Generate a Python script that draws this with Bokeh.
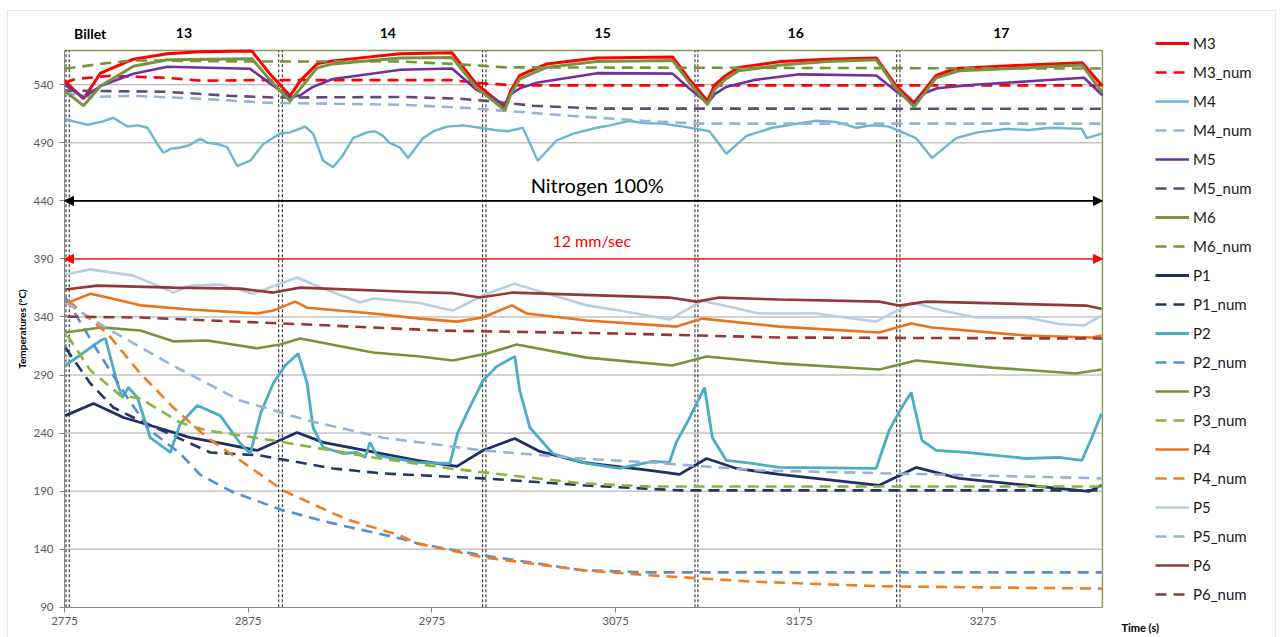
from bokeh.plotting import figure
from bokeh.models import (Range1d, FixedTicker, Legend, LegendItem, Label, Arrow,
                          NormalHead, BoxAnnotation)
from bokeh.embed import file_html
from bokeh.resources import INLINE

# ---------------- data ----------------
x_ticks = [2775, 2875, 2975, 3075, 3175, 3275]
y_ticks = [90, 140, 190, 240, 290, 340, 390, 440, 490, 540]

billet_names = ["Billet", "13", "14", "15", "16", "17"]
billet_x = [2789, 2840, 2951, 3068, 3173, 3285]
billet_lines = [2775.8, 2777.6, 2891.6, 2893.6, 3002.6, 3004.4, 3118.2, 3119.8, 3228.0, 3229.8]

m3_t = [2775, 2785.3, 2794.6, 2812.5, 2831, 2849, 2877, 2887, 2897.8, 2903.3, 2912.5, 2921, 2957.6, 2986,
        2999, 3014.7, 3018, 3022.8, 3037.5, 3064.7, 3106, 3115, 3125, 3129, 3135, 3142, 3165, 3190, 3217,
        3227.7, 3237.5, 3249.5, 3260, 3290, 3329, 3340]
m3_v = [543.4, 528, 550, 562, 566.7, 568.4, 569, 549, 530.5, 543.4, 558, 560.6, 566.7, 567.5,
        541, 521, 535, 548, 558, 563, 564, 545, 526, 540, 548, 555, 560, 562, 563,
        539, 524.5, 548, 554, 556.5, 559, 539]

m3n_t = [2775, 2781, 2800, 2830, 2850, 2880, 2985, 3005, 3020, 3340]
m3n_v = [541.7, 545, 547.7, 546, 543.5, 544, 544, 541, 539.5, 539.5]

m4_t = [2775, 2781, 2787.5, 2795, 2801.6, 2809.2, 2815, 2820.1, 2825.5, 2828.8, 2833, 2838, 2843, 2848.9,
        2853, 2858.2, 2863.6, 2869, 2876.1, 2883.2, 2892.4, 2897.8, 2906, 2910.3, 2915.8, 2921.2, 2926,
        2932.1, 2939.7, 2944, 2948.4, 2952, 2957.6, 2962, 2970.1, 2976, 2983.2, 2992, 3001.1, 3009, 3016.3,
        3024.5, 3032.6, 3042.9, 3052, 3064.7, 3072, 3082.6, 3090, 3100.5, 3112, 3126.1, 3135.3, 3146.2,
        3160.3, 3172, 3184.2, 3195, 3206, 3214, 3223.9, 3238.6, 3247.3, 3260.3, 3272, 3287.5, 3300, 3312,
        3328.8, 3331.5, 3339.7]
m4_v = [510.7, 508, 505.6, 508, 511.6, 504, 505, 503, 489, 481.5, 485, 486, 488, 493.5,
        490, 489, 486, 470, 474.6, 489, 498, 499, 504, 498, 474.6, 469, 478,
        494, 499, 500, 496, 490, 486, 477, 494, 500, 504, 505, 503, 501, 500,
        503, 474.6, 492, 498, 503, 505, 509, 507, 506.5, 504, 500, 480.6, 496,
        503, 506, 509, 508, 503, 505, 504, 494, 477, 494, 499, 502, 501, 503,
        502, 494, 498]

m4n_t = [2775, 2790, 2812, 2849, 2885, 2958, 2995, 3050, 3090, 3120, 3340]
m4n_v = [533, 529.5, 530.5, 528, 524.5, 522.8, 520, 513.3, 509, 506.5, 506.5]

m5_t = [2775, 2785.5, 2794.6, 2812.5, 2831, 2876, 2887, 2898, 2903.3, 2910, 2921, 2958, 2986, 2999, 3014.5,
        3018, 3023, 3032, 3065, 3106, 3115, 3125, 3129, 3135, 3150, 3175, 3217, 3228, 3238, 3242, 3250,
        3270, 3300, 3330, 3340]
m5_v = [540, 529, 539, 549.5, 555.5, 553.8, 541, 529, 531, 538, 545, 553, 554, 536, 523,
        532, 537, 541.7, 550, 549.6, 537, 524, 532, 538, 544, 549, 548, 534, 523, 532, 537,
        540, 543, 546, 531]

m5n_t = [2775, 2830, 2865, 2890, 2960, 2990, 3005, 3030, 3065, 3340]
m5n_v = [535, 534, 530.5, 529, 529.5, 528, 526, 522, 519.5, 519.3]

m6_t = [2775, 2785.3, 2794.6, 2812.5, 2831, 2877, 2887, 2897.8, 2903, 2912.5, 2921, 2957.6, 2986, 2999,
        3014.7, 3018, 3022.8, 3037.5, 3064.7, 3106, 3115, 3125, 3129, 3135, 3142, 3165, 3190, 3217,
        3227.7, 3237.5, 3249.5, 3262, 3290, 3329, 3340]
m6_v = [535, 522, 539, 556, 561.5, 562.4, 544, 526, 536, 554.6, 558, 563, 563.5, 538,
        518, 532, 545, 555, 560, 561, 542, 523, 536, 545, 552, 557, 560, 561.5,
        537, 521, 546, 552, 554, 557, 533]

m6n_t = [2775, 2794.6, 2812.5, 2877, 2958, 2986, 3015, 3340]
m6n_v = [553.8, 558, 561, 560, 560, 558, 555, 554]

p1_t = [2775.5, 2790.8, 2807.1, 2825.5, 2843.5, 2861.4, 2879.9, 2901.6, 2915.8, 2966.8, 2988.6, 3002.7,
        3020.1, 3033.7, 3057.1, 3093.5, 3109.8, 3124.5, 3140.8, 3164.1, 3218.5, 3238.6, 3262, 3316.3,
        3332.6, 3339.5]
p1_v = [255, 265.5, 253.4, 244.8, 236, 231, 225, 240.5, 232, 216.4, 211.3, 225,
        235.3, 224.2, 214.7, 207.8, 204.4, 218.1, 209.5, 204.4, 195, 210.4, 201, 192.3,
        189.7, 195]

p1n_t = [2775.5, 2789.1, 2801.6, 2812.5, 2854.3, 2881.5, 2921.2, 2948.4, 3002.7, 3057.1, 3110, 3339.7]
p1n_v = [313.6, 282.7, 262, 253.4, 223.3, 220.7, 209.5, 205.2, 201, 195, 190.6, 190.6]

p2_t = [2775.5, 2794.6, 2797.3, 2803.8, 2806.5, 2809.8, 2814.7, 2821.7, 2832.6, 2838, 2847.3, 2859.8,
        2870.7, 2876.1, 2882, 2888.6, 2895, 2902.2, 2907.1, 2910.3, 2915.8, 2926.6, 2934.2, 2938.6,
        2941.3, 2945.1, 2966.8, 2984.8, 2989, 2994, 3002.7, 3010, 3020.1, 3022.8, 3028.3, 3040.8,
        3059.2, 3077.2, 3095.1, 3104.3, 3108, 3113.6, 3123.4, 3127.7, 3135.3, 3149.5, 3164.1, 3216.8,
        3223.9, 3230, 3235.9, 3241.8, 3249.5, 3265.8, 3298.4, 3316.3, 3328.8, 3334.2, 3339.5]
p2_v = [298.2, 319.7, 321.4, 282.7, 270.6, 279.2, 270.6, 236, 223.3, 248, 263.7, 255,
        231, 222.4, 258, 282.7, 298, 308.5, 282.7, 244.8, 227.6, 222.4, 223.3, 219,
        232, 220.7, 214.7, 213.8, 240, 257, 285, 297, 306, 276.7, 244.8, 222.4,
        213.8, 209.5, 215.6, 214.7, 232, 248, 279.2, 236, 216.4, 213.8, 210.4, 209.5,
        242.2, 260, 275, 233.6, 225, 223.3, 218.1, 219, 216.4, 236, 256.9]

p2n_t = [2775.5, 2792.9, 2809.2, 2821.7, 2838, 2848.9, 2866.8, 2894, 2921.2, 2930.4, 2957.6, 2966.8,
         3002.7, 3057.1, 3093.5, 3339.7]
p2n_v = [356.7, 311, 270.6, 242.2, 222.4, 204, 189, 173.4, 162.2, 158.8, 149.3, 145,
         134.7, 121.8, 120, 120]

p3_t = [2775.5, 2794.6, 2816.3, 2834.2, 2852.7, 2879.9, 2892.4, 2903.3, 2942.9, 2968.5, 2986.4, 3004.9,
        3021.2, 3059.2, 3106, 3124.5, 3164.1, 3218.5, 3238.6, 3279.9, 3325.5, 3339.5]
p3_v = [326.6, 331, 328.3, 319, 319.7, 313, 316.3, 321.4, 309.4, 306, 302.5, 308.5,
        316.3, 305, 298.2, 306, 300, 294.7, 302.5, 296.4, 291.3, 294.7]

p3n_t = [2776.6, 2789.1, 2805.4, 2816.3, 2838, 2852.7, 2888.6, 2942.9, 2984.8, 3057.1, 3093.5, 3339.7]
p3n_v = [324, 294, 272.4, 269.8, 249, 242.2, 233.6, 219, 209.5, 196.6, 194, 194]

p4_t = [2775.5, 2789.1, 2798.4, 2816.3, 2843.5, 2879.9, 2888.6, 2900.5, 2907.1, 2942.9, 2968.5, 2988.6,
        3002.7, 3018.5, 3026.6, 3059.2, 3108.2, 3122.3, 3164.1, 3218.5, 3235.9, 3247.3, 3298.4,
        3334.2, 3339.5]
p4_v = [351.5, 360, 356.7, 350, 346.4, 343, 345.5, 353.2, 348, 343, 338.6, 336,
        339.5, 350, 343, 337, 331.7, 338.6, 331.7, 326.6, 334.3, 330.9, 324,
        322.3, 324]

p4n_t = [2777.2, 2785.3, 2798.4, 2816.3, 2834.2, 2852.7, 2870.7, 2894, 2921.2, 2930.4, 2957.6, 2966.8,
         3002.7, 3057.1, 3093.5, 3150, 3220, 3339.7]
p4n_v = [354, 343, 325.7, 291.3, 262, 236, 216.4, 190.6, 170.8, 164.8, 151.9, 145,
         133, 121.8, 117.5, 112, 108, 106]

p5_t = [2775.5, 2789, 2812.5, 2821.7, 2834.2, 2843.5, 2859.8, 2877.7, 2892.4, 2901.6, 2915.8, 2935.9,
        2942.9, 2968.5, 2979.3, 2986.4, 3004.9, 3020.1, 3032.1, 3059.2, 3077.2, 3104.3, 3122.3, 3153.3,
        3184.2, 3216.8, 3236.4, 3252.7, 3271.2, 3298.4, 3316.3, 3329.9, 3339.5]
p5_v = [376.5, 381, 375.6, 369.6, 361, 367, 368, 360, 368.7, 374, 364.5, 352.4,
        356, 352, 348, 345.5, 360, 368.7, 362.7, 350, 345.5, 337.8, 354, 343,
        343, 336, 352.4, 345.5, 339.5, 339.5, 334, 332.6, 341]

p5n_t = [2776, 2798.4, 2834.2, 2870.7, 2907.1, 2948.4, 3002.7, 3057.1, 3093.5, 3153.3, 3339.5]
p5n_v = [352, 330, 298, 268, 251, 236, 225, 218, 214.7, 207.8, 201]

p6_t = [2775.5, 2792.9, 2834.2, 2870.7, 2888.6, 2903.3, 2968.5, 2986.4, 3001.1, 3019, 3104.3, 3119,
        3131.5, 3164.1, 3218.5, 3229.3, 3244, 3331, 3339.5]
p6_v = [363.6, 367, 365.3, 364.4, 361, 365.3, 361.3, 360.5, 356.7, 361, 356.7, 353.2,
        356.7, 355, 353.2, 349.8, 353.2, 349.8, 347]

p6n_t = [2776.6, 2816.3, 2907.1, 2979.3, 3077.2, 3164.1, 3339.7]
p6n_v = [340.3, 339.5, 333.5, 328.3, 325.7, 322.3, 321.4]

# ---------------- styling of series ----------------
DASH = "11 7"
series = [
    ("M3", m3_t, m3_v, "#ff0000", "solid", 3.0),
    ("M3_num", m3n_t, m3n_v, "#ff0000", DASH, 2.6),
    ("M4", m4_t, m4_v, "#6db4d0", "solid", 2.4),
    ("M4_num", m4n_t, m4n_v, "#95b3d7", DASH, 2.6),
    ("M5", m5_t, m5_v, "#7030a0", "solid", 2.6),
    ("M5_num", m5n_t, m5n_v, "#604a7b", DASH, 2.6),
    ("M6", m6_t, m6_v, "#77933c", "solid", 3.0),
    ("M6_num", m6n_t, m6n_v, "#77933c", DASH, 2.6),
    ("P1", p1_t, p1_v, "#1f2f66", "solid", 2.8),
    ("P1_num", p1n_t, p1n_v, "#1f3864", DASH, 2.6),
    ("P2", p2_t, p2_v, "#4aacc5", "solid", 2.8),
    ("P2_num", p2n_t, p2n_v, "#558ed5", DASH, 2.6),
    ("P3", p3_t, p3_v, "#77933c", "solid", 2.6),
    ("P3_num", p3n_t, p3n_v, "#8db33b", DASH, 2.6),
    ("P4", p4_t, p4_v, "#e8731a", "solid", 2.6),
    ("P4_num", p4n_t, p4n_v, "#f07d22", DASH, 2.6),
    ("P5", p5_t, p5_v, "#b9cde5", "solid", 2.6),
    ("P5_num", p5n_t, p5n_v, "#95b3d7", DASH, 2.6),
    ("P6", p6_t, p6_v, "#953735", "solid", 2.6),
    ("P6_num", p6n_t, p6n_v, "#953735", DASH, 2.6),
]

FONT = "Lato"
# plot-area limits (data units)
X_LO, X_HI = 2775, 3340
Y_LO, Y_HI = 90, 569.5

# the frame covers the whole canvas; axes are pinned to the plot-area corner
p = figure(width=1280, height=637, x_range=Range1d(2740.16, 3436.95), y_range=Range1d(63.9, 612.6),
           output_backend="svg", toolbar_location=None,
           min_border=0, min_border_left=0, min_border_right=0, min_border_top=0, min_border_bottom=0)
p.background_fill_color = "white"
p.border_fill_color = "white"
p.outline_line_color = None
p.xgrid.visible = False
p.ygrid.visible = False

p.xaxis.fixed_location = Y_LO
p.yaxis.fixed_location = X_LO
p.xaxis.bounds = (X_LO, X_HI)
p.yaxis.bounds = (Y_LO, Y_HI)
p.xaxis.ticker = FixedTicker(ticks=x_ticks)
p.yaxis.ticker = FixedTicker(ticks=y_ticks)
for ax in (p.xaxis, p.yaxis):
    ax.minor_tick_line_color = None
    ax.major_tick_in = 0
    ax.major_tick_out = 5
    ax.axis_line_color = "#868686"
    ax.major_tick_line_color = "#868686"
    ax.major_label_text_font = FONT
    ax.major_label_text_font_size = "11.5px"
    ax.major_label_text_color = "#595959"
p.xaxis.major_label_standoff = 5
p.yaxis.major_label_standoff = 6
p.yaxis.axis_label = "Temperatures (°C)"
p.yaxis.axis_label_text_font = FONT
p.yaxis.axis_label_text_font_style = "bold"
p.yaxis.axis_label_text_font_size = "10px"
p.yaxis.axis_label_text_color = "#000000"
p.yaxis.axis_label_standoff = 2

# outer chart border (bottom edge lies below the picture)
p.add_layout(BoxAnnotation(left=2744.0, right=3434.2, top=604.0, bottom=40,
                           fill_alpha=0, line_color="#a6a6a6", line_width=1))

# horizontal gridlines across the plot area
grid_y = [t for t in y_ticks if t > Y_LO]
p.segment(x0=[X_LO] * len(grid_y), y0=grid_y, x1=[X_HI] * len(grid_y), y1=grid_y,
          line_color="#a6a6a6", line_width=1)

# plot-area border (top and right)
p.line([X_LO, X_HI, X_HI], [Y_HI, Y_HI, Y_LO], line_color="#8c9a58", line_width=1.5)

# billet separators
p.segment(x0=billet_lines, y0=[Y_LO] * len(billet_lines), x1=billet_lines, y1=[Y_HI] * len(billet_lines),
          line_color="#333333", line_width=1.1, line_dash="3 2")

items = []
for name, t, v, color, dash, w in series:
    r = p.line(t, v, line_color=color, line_width=w, line_dash=dash)
    items.append(LegendItem(label=name, renderers=[r]))

# arrows
p.add_layout(Arrow(start=NormalHead(size=9, fill_color="black", line_color="black"),
                   end=NormalHead(size=9, fill_color="black", line_color="black"),
                   x_start=X_LO, y_start=440, x_end=X_HI, y_end=440,
                   line_color="black", line_width=1.6))
p.add_layout(Arrow(start=NormalHead(size=9, fill_color="#ff0000", line_color="#ff0000"),
                   end=NormalHead(size=9, fill_color="#ff0000", line_color="#ff0000"),
                   x_start=X_LO, y_start=390, x_end=X_HI, y_end=390,
                   line_color="#ff0000", line_width=1.4))

p.add_layout(Label(x=3065, y=453.3, text="Nitrogen 100%", text_font=FONT, text_font_size="20px",
                   text_align="center", text_baseline="middle", text_color="black"))
p.add_layout(Label(x=3062, y=406, text="12 mm/sec", text_font=FONT, text_font_size="16px",
                   text_align="center", text_baseline="middle", text_color="#ff0000"))

for nm, bx in zip(billet_names, billet_x):
    p.add_layout(Label(x=bx, y=584.2, text=nm, text_font=FONT, text_font_size="14px",
                       text_font_style="bold", text_align="center", text_baseline="middle",
                       text_color="black"))

p.add_layout(Label(x=3350.4, y=72.5, text="Time (s)", text_font=FONT, text_font_size="11px",
                   text_font_style="bold", text_align="left", text_baseline="middle",
                   text_color="black"))

legend = Legend(items=items, location=(1155, 33), orientation="vertical", padding=0, margin=0,
                spacing=9, glyph_width=34, glyph_height=20, label_height=20, label_standoff=4,
                label_text_font=FONT, label_text_font_size="15px", label_text_color="#1a1a1a",
                border_line_color=None, background_fill_alpha=0)
p.add_layout(legend)

open("out.html", "w").write(file_html(p, INLINE))
